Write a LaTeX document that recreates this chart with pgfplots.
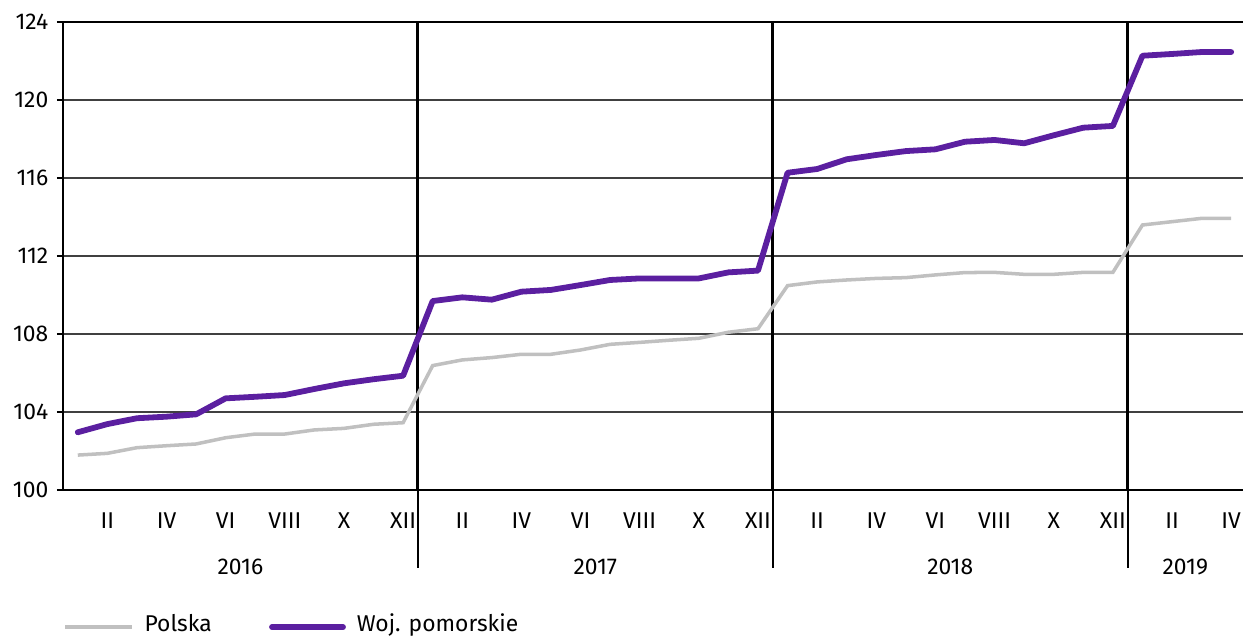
\documentclass[border=0pt]{standalone}
\usepackage{fontspec}
\setmainfont{Fira Sans}
\usepackage{pgfplots}
\pgfplotsset{compat=1.18}
\definecolor{pom}{RGB}{91,31,160}
\definecolor{pl}{RGB}{192,192,192}

% month index 0 = I 2016 ... 39 = IV 2019
\pgfplotstableread{
m  polska  pomorskie
0  101.79  102.96
1  101.88  103.38
2  102.17  103.68
3  102.27  103.76
4  102.36  103.88
5  102.68  104.70
6  102.87  104.78
7  102.87  104.87
8  103.08  105.18
9  103.16  105.47
10 103.37  105.68
11 103.45  105.86
12 106.38  109.69
13 106.67  109.88
14 106.79  109.76
15 106.96  110.17
16 106.96  110.26
17 107.18  110.51
18 107.47  110.77
19 107.57  110.85
20 107.68  110.85
21 107.78  110.85
22 108.09  111.16
23 108.27  111.25
24 110.48  116.27
25 110.67  116.46
26 110.77  116.96
27 110.85  117.18
28 110.89  117.38
29 111.03  117.47
30 111.15  117.86
31 111.16  117.95
32 111.06  117.78
33 111.06  118.19
34 111.16  118.58
35 111.16  118.67
36 113.59  122.27
37 113.76  122.36
38 113.93  122.46
39 113.93  122.46
}\data

\begin{document}
\begin{tikzpicture}
\useasboundingbox (-1.26,-2.94) rectangle (23.6,9.80);
\begin{axis}[
  at={(0,0)}, anchor=south west,
  scale only axis, width=23.6cm, height=9.36cm,
  xmin=-0.5, xmax=39.4, ymin=100, ymax=124,
  axis x line*=bottom, axis y line*=left,
  axis line style={line width=1.6pt, -},
  ytick={100,104,...,124},
  ymajorgrids, grid style={line width=0.9pt, black!75},
  xtick={1,3,...,39},
  xticklabels={II,IV,VI,VIII,X,XII,II,IV,VI,VIII,X,XII,II,IV,VI,VIII,X,XII,II,IV},
  x tick style={draw=none},
  y tick style={black, line width=0.8pt},
  tick align=outside, major tick length=0.12cm,
  tick label style={font=\fontsize{13}{15}\selectfont},
  xticklabel style={yshift=-0.22cm},
  yticklabel style={xshift=-0.05cm},
  /pgf/number format/assume math mode=true,
  clip=false,
]
\draw[line width=1.6pt] (rel axis cs:0,1) -- (rel axis cs:1,1);
\pgfplotsinvokeforeach{11.5,23.5,35.5}{
  \draw[line width=1.7pt] (axis cs:#1,124) -- (axis cs:#1,100);
  \draw[line width=1.3pt] (axis cs:#1,100) -- (axis cs:#1,96);
}
\addplot[pl, line width=2pt, mark=none] table[x=m, y=polska] {\data};
\addplot[pom, line width=3.3pt, mark=none, line cap=round, line join=round] table[x=m, y=pomorskie] {\data};

\node[font=\fontsize{13}{15}\selectfont] at (axis cs:5.5,96.05) {2016};
\node[font=\fontsize{13}{15}\selectfont] at (axis cs:17.5,96.05) {2017};
\node[font=\fontsize{13}{15}\selectfont] at (axis cs:29.5,96.05) {2018};
\node[font=\fontsize{13}{15}\selectfont] at (axis cs:37.45,96.05) {2019};
\draw[pl, line width=2pt] (axis cs:-0.432,92.97) -- (axis cs:1.833,92.97)
  node[black, anchor=mid west, xshift=0.1cm, font=\fontsize{13}{15}\selectfont] {Polska};
\draw[pom, line width=3.3pt, line cap=round] (axis cs:6.567,92.97) -- (axis cs:8.968,92.97)
  node[black, anchor=mid west, xshift=0.1cm, font=\fontsize{13}{15}\selectfont] {Woj. pomorskie};
\end{axis}
\end{tikzpicture}
\end{document}
